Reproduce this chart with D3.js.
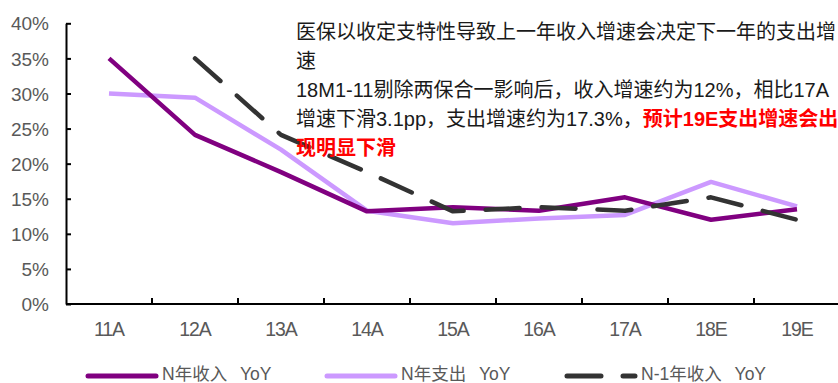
<!DOCTYPE html>
<html>
<head>
<meta charset="utf-8">
<script src="https://cdn.jsdelivr.net/npm/d3@7"></script>
<style>
  html, body { margin: 0; padding: 0; background: #fff; }
  svg { display: block; }
  text { font-family: "Liberation Sans", Arial, "Noto Sans CJK SC", sans-serif; }
</style>
</head>
<body>
<svg id="chart" width="838" height="383"></svg>
<script>
// Categories (years) and series, in percent
const years = ["11A", "12A", "13A", "14A", "15A", "16A", "17A", "18E", "19E"];
const incomeYoY  = [35.0, 24.1, 18.8, 13.2, 13.8, 13.3, 15.2, 12.0, 13.5];
const expenseYoY = [30.0, 29.4, 22.0, 13.3, 11.5, 12.2, 12.7, 17.4, 13.9];
const prevIncomeYoY = [null, 35.0, 24.1, 18.8, 13.2, 13.8, 13.3, 15.2, 12.0];
const yTicks = [0, 5, 10, 15, 20, 25, 30, 35, 40];

const seriesNames = ["N年收入 YoY", "N年支出 YoY", "N-1年收入 YoY"];

// Annotation lines: arrays of [text, isHighlight]
const noteLines = [
  [["医保以收定支特性导致上一年收入增速会决定下一年的支出增", false]],
  [["速", false]],
  [["18M1-11剔除两保合一影响后，收入增速约为12%，相比17A", false]],
  [["增速下滑3.1pp，支出增速约为17.3%，", false], ["预计19E支出增速会出", true]],
  [["现明显下滑", true]]
];

const svg = d3.select("#chart");

const x = d3.scaleBand().domain(years).range([66, 840]).padding(0);
const y = d3.scaleLinear().domain([0, 40]).range([304, 23.3]);

// Y axis
const yAxis = d3.axisLeft(y).tickValues(yTicks).tickSizeInner(-5).tickSizeOuter(0)
  .tickPadding(17).tickFormat(d => d + "%");
const gy = svg.append("g").attr("transform", "translate(66,0)").call(yAxis);
gy.select(".domain").attr("stroke", "#000").attr("stroke-width", 2);
gy.selectAll(".tick line").attr("stroke", "#000").attr("stroke-width", 2);
gy.selectAll(".tick text").attr("fill", "#595959").attr("font-size", 19)
  .attr("dy", "0.35em");

// X axis: ticks on category boundaries
const gx = svg.append("g").attr("transform", "translate(0,304)");
gx.append("line").attr("x1", 66).attr("x2", 840).attr("stroke", "#000").attr("stroke-width", 2);
gx.selectAll("line.bound").data(years.slice(1)).join("line")
  .attr("class", "bound")
  .attr("x1", d => x(d)).attr("x2", d => x(d))
  .attr("y1", 0).attr("y2", -6)
  .attr("stroke", "#000").attr("stroke-width", 2);
gx.selectAll("text").data(years).join("text")
  .attr("x", d => x(d) + x.bandwidth() / 2)
  .attr("y", 32)
  .attr("text-anchor", "middle")
  .attr("fill", "#595959")
  .attr("font-size", 19.5)
  .attr("letter-spacing", -1)
  .text(d => d);

// Lines
const cx = (d, i) => x(years[i]) + x.bandwidth() / 2;
const line = d3.line().defined(d => d != null).x(cx).y(d => y(d));

const styles = [
  { data: incomeYoY, color: "#800080", dash: null },
  { data: expenseYoY, color: "#CC99FF", dash: null },
  { data: prevIncomeYoY, color: "#333333", dash: "34,22" }
];

// draw order: light, dark purple, dashed on top
[1, 0, 2].forEach(k => {
  const s = styles[k];
  svg.append("path")
    .attr("d", line(s.data))
    .attr("fill", "none")
    .attr("stroke", s.color)
    .attr("stroke-width", 4.5)
    .attr("stroke-linejoin", "round")
    .attr("stroke-linecap", s.dash ? "round" : "butt")
    .attr("stroke-dasharray", s.dash);
});

// Annotation text
const note = svg.append("text").attr("font-size", 20);
noteLines.forEach((parts, li) => {
  parts.forEach((p, pi) => {
    const t = note.append("tspan").text(p[0])
      .attr("fill", p[1] ? "#FF0000" : "#1a1a1a")
      .attr("font-weight", p[1] ? "bold" : "normal");
    if (pi === 0) t.attr("x", 296).attr("y", 38.5 + li * 29);
  });
});

// Legend
const legendX = [88, 327, 567];
const legend = svg.append("g");
styles.forEach((s, i) => {
  legend.append("line")
    .attr("x1", legendX[i]).attr("x2", legendX[i] + 68)
    .attr("y1", 376).attr("y2", 376)
    .attr("stroke", s.color).attr("stroke-width", 5)
    .attr("stroke-linecap", "round")
    .attr("stroke-dasharray", s.dash);
  legend.append("text")
    .attr("x", legendX[i] + 74).attr("y", 380)
    .attr("font-size", 17.5).attr("fill", "#595959")
    .attr("word-spacing", 8)
    .text(seriesNames[i]);
});
</script>
</body>
</html>
